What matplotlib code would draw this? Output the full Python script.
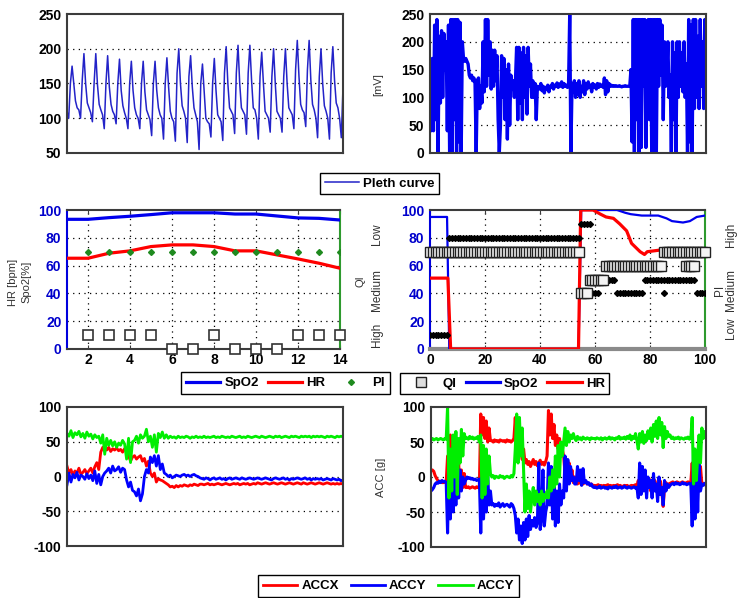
import numpy as np
import matplotlib
matplotlib.use('Agg')
import matplotlib.pyplot as plt
from matplotlib.lines import Line2D

plt.rcParams['font.family'] = ['Liberation Sans', 'DejaVu Sans']

# ---------------- DATA ----------------
# Top-left: Pleth curve samples
pleth = [110, 100,
         150, 175, 150, 125, 115, 112, 100,
         155, 193, 150, 122, 115, 108, 95,
         150, 193, 148, 120, 112, 105, 85,
         150, 190, 145, 120, 110, 105, 92,
         150, 185, 140, 118, 108, 100, 85,
         150, 182, 140, 115, 105, 100, 85,
         150, 182, 138, 112, 105, 98, 75,
         150, 182, 140, 115, 105, 100, 70,
         150, 187, 145, 110, 100, 95, 67,
         165, 200, 150, 118, 110, 100, 65,
         160, 190, 145, 115, 105, 95, 55,
         150, 178, 140, 100, 95, 92, 73,
         150, 186, 140, 105, 100, 95, 68,
         165, 203, 150, 115, 110, 105, 78,
         165, 205, 150, 115, 110, 105, 77,
         165, 205, 155, 115, 112, 100, 70,
         160, 195, 150, 110, 105, 100, 80,
         160, 200, 150, 110, 105, 100, 80,
         160, 200, 150, 115, 110, 105, 85,
         170, 212, 160, 120, 112, 108, 88,
         170, 212, 155, 120, 112, 100, 72,
         160, 200, 150, 118, 110, 100, 70,
         165, 203, 155, 122, 115, 100, 72,
         145]

# Top-right: signal in mV
mv_signal = [150, 40, 170, 40, 230, 60, 240, 0, 210, 90, 220, 100, 215, 150, 200, 40, 230, 0, 240, 0,
             240, 60, 240, 0, 240, 20, 235, 0, 200, 170, 165, 170, 165,
             160, 140, 135, 140, 130, 135, 125, 0, 130, 135, 80, 120, 90,
             200, 110, 240, 120, 240, 140, 200, 115,
             185, 120, 185, 130, 175, 60, 0, 50,
             175, 100, 170, 60, 150, 25, 160, 50, 140,
             120, 130, 100, 130,
             190, 60, 190, 90, 180, 60, 190, 100, 175, 70, 190, 120, 160, 100, 130,
             100, 125, 60, 120,
             118, 115, 125, 112, 120, 108, 118, 115, 122, 110, 120, 118, 125, 115, 122, 120, 126, 118,
             124, 120, 128, 118, 125, 120, 122, 118, 125,
             250, 0, 125,
             110, 130, 100, 125, 105, 130, 100, 120, 110, 130, 105, 125, 115, 128, 118, 122, 110, 125,
             118, 122, 115, 125, 118, 124, 120, 122, 118, 135, 105, 130, 110, 125, 120, 122, 120, 121,
             120, 121, 120, 120, 121, 120, 119, 120, 120, 121, 120, 120, 120, 120,
             150, 20, 240, 0, 240, 60, 240, 0, 240, 10,
             240, 120, 240, 10, 200, 240, 60, 240, 0, 240,
             0, 240, 0, 240, 120, 240, 140, 230, 60, 200,
             120, 140, 200, 100, 140, 0, 200, 60, 180, 0,
             200, 100, 200, 120, 180, 110, 200, 100, 160, 0,
             240, 20, 230, 0, 240, 80, 240, 100, 210, 80,
             240, 120, 200, 80, 240, 130]

# Middle-left: trend over 14 steps
ml_t = [1, 2, 3, 4, 5, 6, 7, 8, 9, 10, 11, 12, 13, 14]
spo2_ml = [93.3, 93.3, 94.5, 95.5, 96.7, 98.0, 98.0, 98.0, 97.1, 97.1, 95.7, 94.3, 94.0, 92.8]
hr_ml = [65.3, 65.3, 68.9, 70.6, 73.7, 74.9, 74.9, 73.7, 70.6, 70.6, 67.7, 64.8, 61.7, 58.1]
pi_ml_t = [2, 3, 4, 5, 6, 7, 8, 9, 10, 11, 12, 13, 14]
pi_ml = [70, 70, 70, 70, 70, 70, 70, 70, 70, 70, 70, 70, 70]
qi_ml = [10, 10, 10, 10, 0, 0, 10, 0, 0, 0, 10, 10, 10]

# Middle-right: 0..100
spo2_mr_t = [0, 6.2, 7.0, 54.0, 55.0, 60, 65, 68, 71, 73, 77, 80, 83, 86, 88, 92, 94.5, 97, 100]
spo2_mr = [95, 95, 0, 0, 100, 100, 100, 100, 98, 97, 96, 96, 96, 94, 92, 91, 92, 95, 96]
hr_mr_t = [0, 6.5, 7.5, 54.0, 54.8, 59.3, 62, 64, 66.7, 69, 71.5, 73.3, 76.4, 78, 79, 83]
hr_mr = [51, 51, 0, 0, 100, 100, 97, 95, 94, 90, 85, 76, 70, 68, 70, 71]
nan = float('nan')
qi_mr = [70] * 55 + [40] * 3 + [50] * 6 + [60] * 21 + [70] * 16
qi_mr_extra = [nan] * 93 + [60] * 4 + [nan] * 4
pi_mr = [10] * 7 + [80] * 48 + [90] * 4 + [40] * 3 + [50] * 6 + [40] * 10 + [50] * 19 + [40] * 4
pi_mr_extra = [nan] * 85 + [40] + [nan] * 15

# Bottom-left: accelerations
accx_bl = [15, 5, 10, 2, 8, 5, 12, 3, 6, 10, 4, 8, 12, 5, 14,
           20, 10, 35, 42,
           40, 38, 42, 36, 40, 38, 41, 37, 39, 35, 40,
           38, 30, 22, 28, 30, 25, 28, 30, 22, 26,
           15, 22, 5, 0, 5, -8, -3, -5, -6, -8, -10,
           -12, -15, -14, -16, -13,
           -15, -13, -14, -12, -13, -14, -12, -13, -11, -12, -13, -11,
           -11, -12, -11, -10, -12, -11, -12, -11, -10, -11,
           -12, -11, -10, -11, -12, -11, -10, -11, -10, -12,
           -11, -10, -11, -10, -12, -11, -10, -11, -9, -10,
           -11, -10, -9, -10, -11, -10, -9, -10, -11, -10,
           -9, -10, -11, -10, -9, -10, -11, -10, -9, -10,
           -11, -9, -10, -11, -10, -9, -10, -11, -10, -9,
           -10, -11, -10, -9, -10, -11, -10, -11, -10, -11,
           -10, -11]
accy_bl = [-12, 5, -8, 3, -2, 6, -5, 2, 0, -4, 4, -3, 2, -6, 8, -10, 3,
           -12, 0, 5,
           8, 12, 5, 15, 8, 10, 14, 6, 12, 10,
           -5, -15, -8, -20,
           -22, -28, -18, -35, -25,
           0, 10, 5, 28, 20, 30, 15, 30, 10, 18,
           5, 3, 0, 2, -2,
           0, 2, 1, 0, 2, 3, 1, 2, 0, 2, 3, 1, 0, -2,
           -3, -4, -2, -3, -5, -3, -2, -4, -3, -2,
           -4, -3, -5, -3, -2, -4, -3, -2, -3, -4,
           -2, -3, -4, -3, -2, -3, -4, -3, -2, -3,
           -4, -3, -2, -3, -4, -5, -3, -2, -3, -4,
           -3, -2, -4, -3, -5, -3, -4, -3, -2, -3,
           -4, -3, -2, -4, -3, -5, -3, -4, -3, -4,
           -3, -5, -4, -3, -4, -5, -3, -4, -5, -4,
           -6, -5]
accz_bl = [62, 58, 66, 56, 63, 60, 65, 57, 62, 55, 64, 58, 61, 54, 60, 56, 58,
           48, 60, 32, 55, 45,
           52, 44, 50, 42, 48, 45, 52, 47,
           25, 55, 20, 50,
           52, 58, 48, 60, 55, 58,
           68, 50, 58, 42, 60, 35,
           62, 56, 64, 55, 60,
           55, 58, 56, 57, 55, 58, 56, 57, 56, 58,
           57, 55, 57, 56, 58, 56, 57, 56, 58, 56,
           57, 56, 57, 58, 56, 57, 56, 58, 57, 56,
           57, 56, 58, 57, 56, 57, 58, 56, 57, 56,
           58, 57, 56, 57, 58, 57, 56, 58, 57, 56,
           57, 58, 57, 56, 58, 57, 58, 56, 57, 58,
           57, 56, 58, 57, 58, 57, 56, 58, 57, 58,
           57, 58, 56, 58, 57, 58, 57, 58, 57, 56,
           58, 57, 58, 57, 56, 58, 57, 58, 57]

# Bottom-right: accelerations
accx_br = [10, 10, 8, 2, -2, -5, -8, -6, -8, -8, -7, -8,
           30, -10, 60, -20, 50, 0, 40, -15, 20, -18, 10, -15, 5, -15,
           -15, -14, -16, -15, -14, -15, -16, -14, -15, -15,
           90, 60, 85, 55, 80, 50, 70, 52,
           52, 50, 53, 51, 52, 50, 53, 52, 51, 52, 50, 53, 51, 52, 50, 52, 55,
           85, 40, 80, 30, 60, 25, 40,
           20, 25, 18, 22, 15, 20, 25, 18, 22, 16, 20, 24, 18, 21, 17, 22, 30,
           95, 60, 90, 55, 75, 45, 60, 40, 55, 35, 40,
           30, 5, 25, 0, 20, -5, 10, -8, 0,
           -5, -10, -6, -9, -5, -10, -8, -6, -10, -9, -11, -10, -12,
           -12, -13, -12, -11, -13, -12, -14, -12, -13, -12, -11, -13, -12, -14, -12, -13,
           -12, -11, -13, -12, -14, -13, -12, -13, -12, -14, -13, -12, -13, -12, -11, -13,
           -5, -20, -10, -15, 0, -18, -8, -12, -3, -20, -8, -15, -5, -18, -10, -12,
           -6, -20, -42, -15, -8, -12, -10, -9,
           -8, -7, -9, -8, -7, -8, -9, -8, -7, -8, -9, -8, -7, -8, -8,
           20, -20, 10, -15, 5, -10, 15,
           -10, -9, -11, -10]
accy_br = [-20, -18, -15, -10, -8, -9, -6, -8, -5, -7, -6, -8,
           -80, 15, -60, 40, -50, 20, -40, 30, -30, 10, -20, 0, -10, -5,
           0, -2, -1, -3, -2, -4, -3, -5, -4, -3,
           -80, 0, -60, -10, -50, 5, -40, -20,
           -40, -38, -42, -39, -41, -37, -43, -40, -38, -42, -40, -39, -41, -43, -38, -40, -45,
           -55, -80, -60, -90, -70, -95, -65,
           -90, -60, -85, -55, -75, -62, -70, -58, -72, -65, 20, -75, -60, 10, -70, -50, -40,
           20, -40, 15, -60, -10, -70, -20, -65, -10, -40, -20,
           -30, 30, -20, 25, -10, 15, -5, 0, -10,
           -10, 15, -5, 10, -12, 12, -8, -5, -10, -8, -12, -10, -14,
           -15, -14, -16, -15, -13, -16, -15, -14, -16, -15, -17, -14, -15, -16, -14, -15,
           -13, -16, -15, -14, -16, -15, -13, -15, -16, -14, -15, -16, -15, -14, -16, -15,
           -30, 20, -25, 15, -20, 10, -30, 0, -15, -5, -30, 5, -20, -10, -35, 0,
           -25, -15, -40, -5, -20, -10, -15, -12,
           -10, -9, -11, -8, -10, -9, -11, -10, -8, -10, -9, -11, -10, -9, -10,
           -70, 40, -60, 30, -50, 20, -20,
           -10, -12, -9, -10]
accz_br = [54, 55, 53, 54, 55, 53, 54, 55, 54, 53, 55, 54,
           100, -30, 40, -20, 60, 0, 65, -25, 55, 20, 68, 30, 62, 55,
           56, 54, 58, 55, 57, 54, 56, 55, 58, 50,
           60, -30, 45, -25, 40, -10, 30, 5,
           0, 2, -2, 1, 0, -1, 2, 0, 1, -2, 0, 1, 0, -1, 2, 0, 5,
           40, 90, 20, 85, 30, 70, 10,
           -50, -10, -45, -20, -50, -30, -15, -40, -20, -35, -25, -40, -20, -35, -25, -30, -20,
           -30, 0, -20, 10, -15, 30, -10, 45, 0, 50, 30,
           50, 70, 45, 65, 50, 60, 55, 62, 55,
           52, 58, 54, 56, 53, 57, 55, 54, 56, 55, 53, 56, 55,
           55, 54, 56, 55, 54, 56, 53, 55, 56, 54, 55, 57, 54, 56, 55, 53,
           56, 55, 58, 54, 56, 55, 57, 54, 58, 55, 60, 53, 58, 55, 62, 52,
           40, 62, 50, 65, 48, 60, 52, 66, 55, 70, 50, 75, 58, 80, 55, 85,
           60, 78, 42, 72, 55, 65, 58, 60,
           55, 57, 54, 56, 55, 57, 54, 56, 55, 54, 56, 55, 57, 54, 55,
           85, -10, 40, -5, 30, 60, 20,
           70, 55, 65, 58]

# ---------------- FIGURE ----------------
W, H = 743, 598
fig = plt.figure(figsize=(W / 100, H / 100), dpi=100)
fig.patch.set_facecolor('white')

EDGE = '#3c3c3c'
DOT = (0, (1, 3.5))


def ax_at(l, t, r, b):
    return fig.add_axes([l / W, 1 - b / H, (r - l) / W, (b - t) / H])


def base_style(ax, yticks, ylabels_color='black'):
    for s in ax.spines.values():
        s.set_color(EDGE)
        s.set_linewidth(1.5)
    ax.set_yticks(yticks)
    ax.set_yticklabels([str(v) for v in yticks], fontweight='bold', fontsize=10, color=ylabels_color)
    ax.tick_params(axis='y', length=0, pad=4)
    ax.set_xticks([])


def hgrid(ax, ys):
    for y in ys:
        ax.axhline(y, color='black', ls=DOT, lw=0.9, zorder=0.5)


def vgrid(ax, xs):
    for x in xs:
        ax.axvline(x, color='black', ls=DOT, lw=0.9, zorder=0.5)


# Top-left
ax1 = ax_at(67, 14, 343, 153)
ax1.plot(np.arange(len(pleth)), pleth, color='#2323c8', lw=1.1)
ax1.set_xlim(0, len(pleth) - 1)
ax1.set_ylim(50, 250)
base_style(ax1, [50, 100, 150, 200, 250])
hgrid(ax1, [100, 150, 200])

# Top-right
ax2 = ax_at(430, 14, 706, 153)
ax2.plot(np.arange(len(mv_signal)), mv_signal, color='#0000f0', lw=2.4)
ax2.set_xlim(0, len(mv_signal) - 1)
ax2.set_ylim(0, 250)
base_style(ax2, [0, 50, 100, 150, 200, 250])
hgrid(ax2, [50, 100, 150, 200])
fig.text(378 / W, 1 - 85 / H, '[mV]', rotation=90, ha='center', va='center', fontsize=8, color='#333333')

# Middle-left
ax3 = ax_at(67, 210, 340, 349)
ax3.plot(ml_t, spo2_ml, color='#0000ee', lw=2.3, zorder=3)
ax3.plot(ml_t, hr_ml, color='#ff0000', lw=2.3, zorder=3)
ax3.plot(pi_ml_t, pi_ml, ls='none', marker='D', ms=3, color='#1f8a1f', zorder=4)
ax3.plot(pi_ml_t, qi_ml, ls='none', marker='s', ms=6.5, mfc='white', mec='#333333', mew=1.2,
         zorder=5, clip_on=False)
ax3.set_xlim(1, 14)
ax3.set_ylim(0, 100)
base_style(ax3, [0, 20, 40, 60, 80, 100], ylabels_color='#0000cc')
ax3.set_xticks([2, 4, 6, 8, 10, 12, 14])
ax3.set_xticklabels(['2', '4', '6', '8', '10', '12', '14'], fontweight='bold', fontsize=10)
ax3.tick_params(axis='x', length=3, direction='in', top=True, pad=3, color=EDGE)
ax3.spines['left'].set_color('#0000dd')
ax3.spines['right'].set_color('#2e9a2e')
hgrid(ax3, [20, 40, 60, 80])
vgrid(ax3, [2, 4, 6, 8, 10, 12])

fig.text(13 / W, 1 - 282 / H, 'HR [bpm]', rotation=90, ha='center', va='center', fontsize=8, color='#333333')
fig.text(26 / W, 1 - 282 / H, 'Spo2[%]', rotation=90, ha='center', va='center', fontsize=8, color='#333333')
fig.text(361 / W, 1 - 281 / H, 'QI', rotation=90, ha='center', va='center', fontsize=8, color='#333333')
fig.text(377 / W, 1 - 234 / H, 'Low', rotation=90, ha='center', va='center', fontsize=8.5, color='#333333')
fig.text(377 / W, 1 - 290 / H, 'Medium', rotation=90, ha='center', va='center', fontsize=8.5, color='#333333')
fig.text(377 / W, 1 - 335 / H, 'High', rotation=90, ha='center', va='center', fontsize=8.5, color='#333333')

# Middle-right
ax4 = ax_at(430, 210, 705, 349)
mr_t = np.arange(len(qi_mr))
ax4.plot(spo2_mr_t, spo2_mr, color='#0000ee', lw=1.6, zorder=3)
ax4.plot(hr_mr_t, hr_mr, color='#ff0000', lw=2.3, zorder=3)
ax4.plot(mr_t, pi_mr, ls='none', marker='D', ms=3, color='black', zorder=4)
ax4.plot(mr_t, pi_mr_extra, ls='none', marker='D', ms=3, color='black', zorder=4)
ax4.plot(mr_t, qi_mr, ls='none', marker='s', ms=6.5, mfc='#f4f4f4', mec='#222222', mew=1.0,
         zorder=5, clip_on=False)
ax4.plot(mr_t, qi_mr_extra, ls='none', marker='s', ms=6.5, mfc='#f4f4f4', mec='#222222', mew=1.0,
         zorder=5, clip_on=False)
ax4.set_xlim(0, 100)
ax4.set_ylim(0, 100)
base_style(ax4, [0, 20, 40, 60, 80, 100], ylabels_color='#0000cc')
ax4.set_xticks([0, 20, 40, 60, 80, 100])
ax4.set_xticklabels(['0', '20', '40', '60', '80', '100'], fontweight='bold', fontsize=10)
ax4.tick_params(axis='x', length=3, direction='in', top=True, pad=3, color=EDGE)
ax4.spines['left'].set_color('#0000dd')
ax4.spines['right'].set_color('#2e9a2e')
ax4.spines['bottom'].set_color('#8a8a8a')
ax4.spines['bottom'].set_linewidth(3)
hgrid(ax4, [20, 40, 60, 80])
vgrid(ax4, [20, 40, 60, 80])

fig.text(720 / W, 1 - 290 / H, 'PI', rotation=90, ha='center', va='center', fontsize=8.5, color='#333333')
fig.text(731 / W, 1 - 235 / H, 'High', rotation=90, ha='center', va='center', fontsize=8.5, color='#333333')
fig.text(731 / W, 1 - 290 / H, 'Medium', rotation=90, ha='center', va='center', fontsize=8.5, color='#333333')
fig.text(731 / W, 1 - 328 / H, 'Low', rotation=90, ha='center', va='center', fontsize=8.5, color='#333333')

# Bottom-left
ax5 = ax_at(67, 407, 343, 546)
tb = np.arange(len(accx_bl))
ax5.plot(tb, accx_bl, color='#ff0000', lw=2.0)
ax5.plot(tb, accy_bl, color='#0000ff', lw=2.0)
ax5.plot(tb, accz_bl, color='#00ee00', lw=2.0)
ax5.set_xlim(0, len(accx_bl) - 1)
ax5.set_ylim(-100, 100)
base_style(ax5, [-100, -50, 0, 50, 100])
hgrid(ax5, [-50, 0, 50])

# Bottom-right
ax6 = ax_at(431, 407, 706, 547)
tr = np.arange(len(accx_br))
ax6.plot(tr, accx_br, color='#ff0000', lw=2.2)
ax6.plot(tr, accy_br, color='#0000ff', lw=2.2)
ax6.plot(tr, accz_br, color='#00ee00', lw=2.2)
ax6.set_xlim(0, len(accx_br) - 1)
ax6.set_ylim(-100, 100)
base_style(ax6, [-100, -50, 0, 50, 100])
hgrid(ax6, [-50, 0, 50])
fig.text(381 / W, 1 - 477 / H, 'ACC [g]', rotation=90, ha='center', va='center', fontsize=8, color='#333333')


# ---------------- LEGENDS ----------------
def flegend(handles, labels, cx, cy, colsp=0.7):
    leg = fig.legend(handles, labels, loc='center', bbox_to_anchor=(cx / W, 1 - cy / H),
                     ncol=len(handles), frameon=True, fancybox=False, edgecolor='black',
                     framealpha=1, prop={'weight': 'bold', 'size': 9.5}, handlelength=2.6,
                     handletextpad=0.3, columnspacing=colsp, borderpad=0.35, borderaxespad=0)
    leg.get_frame().set_linewidth(1.0)
    return leg


flegend([Line2D([], [], color='#2323c8', lw=1.1)], ['Pleth curve'], 379.5, 183.5)
flegend([Line2D([], [], color='#0000ee', lw=2.3),
         Line2D([], [], color='#ff0000', lw=2.3),
         Line2D([], [], ls='none', marker='D', ms=3, color='#1f8a1f')],
        ['SpO2', 'HR', 'PI'], 285.5, 383, colsp=0.7)
flegend([Line2D([], [], ls='none', marker='s', ms=6.5, mfc='#dddddd', mec='#222222', mew=1.0),
         Line2D([], [], color='#0000ee', lw=2.3),
         Line2D([], [], color='#ff0000', lw=2.3)],
        ['QI', 'SpO2', 'HR'], 504.5, 383.5, colsp=0.7)
flegend([Line2D([], [], color='#ff0000', lw=2.0),
         Line2D([], [], color='#0000ff', lw=2.0),
         Line2D([], [], color='#00ee00', lw=2.0)],
        ['ACCX', 'ACCY', 'ACCY'], 388.5, 586, colsp=0.9)

fig.savefig('out.png', dpi=100, facecolor='white')
